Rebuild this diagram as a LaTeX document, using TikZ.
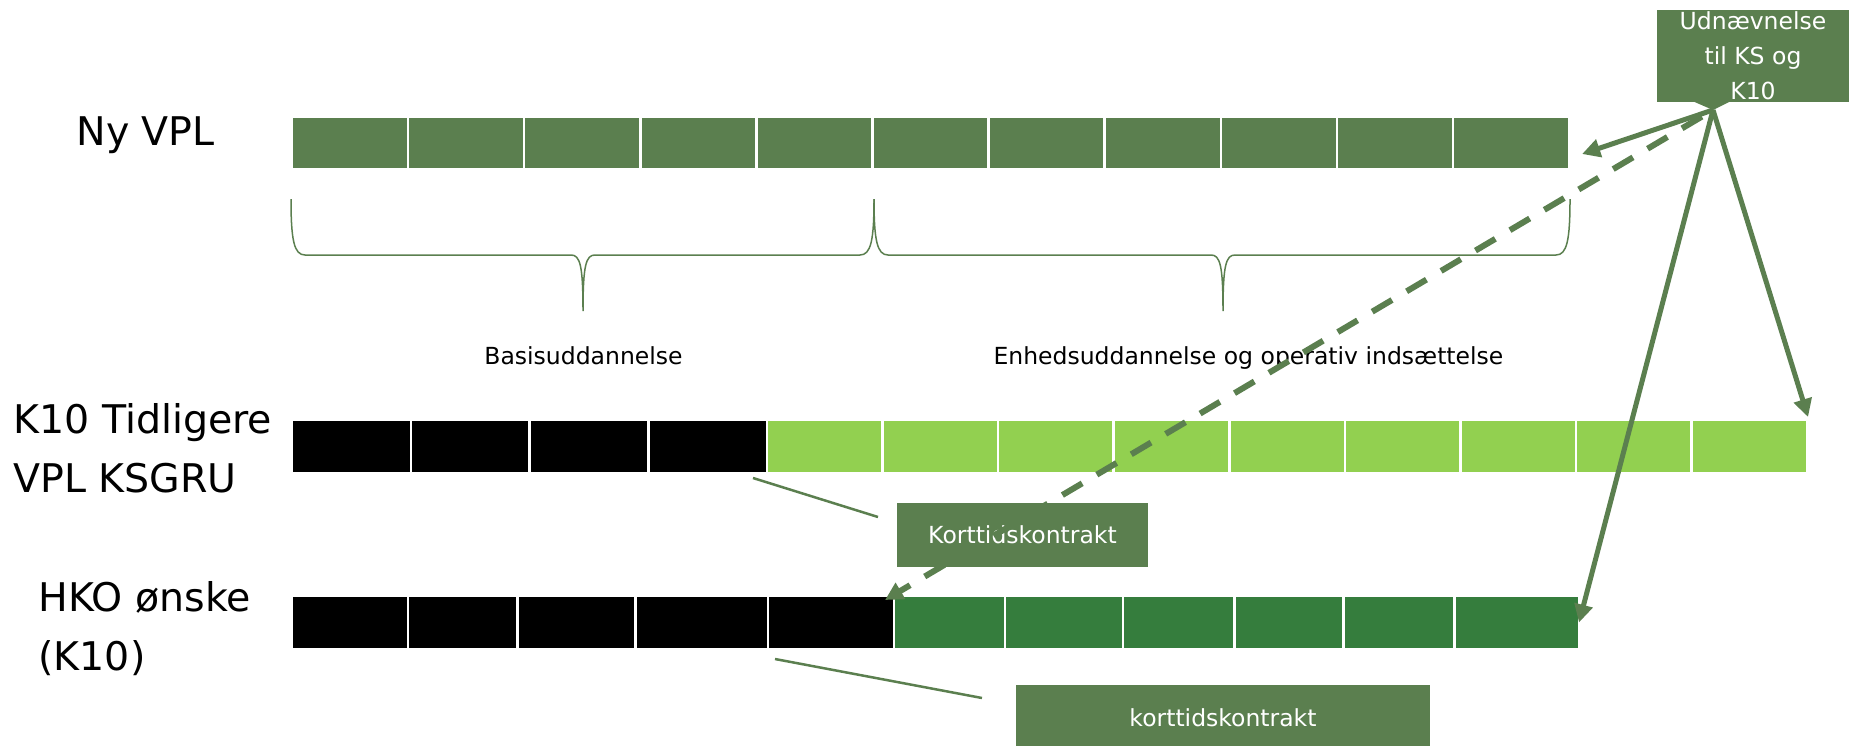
\documentclass[tikz,border=0pt]{standalone}
\usepackage{fontspec}
\setmainfont{DejaVu Sans}
\usetikzlibrary{arrows.meta}
\definecolor{vplgreen}{HTML}{5B7F4F}
\definecolor{lightgreen}{HTML}{92D050}
\definecolor{darkgreen}{HTML}{357D3D}
\tikzset{
  every picture/.style={
    line width=1pt
  },
  cell/.style={draw=white, line width=2.5pt, minimum height=53pt, inner sep=0pt, outer sep=0pt},
  rowlabel/.style={font=\fontsize{39.5}{59}\selectfont, align=left, anchor=base west, inner sep=0pt},
  phase/.style={font=\fontsize{23.5}{28}\selectfont, anchor=base, inner sep=0pt},
  greenbox/.style={fill=vplgreen, text=white, font=\fontsize{23.5}{35}\selectfont, align=center, inner sep=0pt},
  brace/.style={draw=vplgreen, line width=1.5pt},
  pointer/.style={draw=vplgreen, line width=2.5pt},
  move/.style={draw=vplgreen, line width=5pt, ->}
}

\begin{document}
\begin{tikzpicture}[x=1pt, y=-1pt, >={Triangle[length=18pt,width=18pt]}]
  \useasboundingbox (0,0) rectangle (1849,745);

  % rows of cells
  \foreach \i in {1,...,11}
    \node[cell, fill=vplgreen, minimum width=116.1pt] (ny\i) at ({292+(\i-0.5)*116.1}, 143) {};
  \foreach \i in {1,...,4}
    \node[cell, fill=black, minimum width=118.75pt] (k\i) at ({292+(\i-0.5)*118.75}, 446.5) {};
  \foreach \i in {5,...,13}
    \node[cell, fill=lightgreen, minimum width=115.56pt] (k\i) at ({767+(\i-4.5)*115.56}, 446.5) {};
  \foreach \a/\b [count=\i] in {292/408, 408/517.5, 517.5/635.5, 635.5/768, 768/894}
    \node[cell, fill=black, minimum width={(\b-\a)*1pt}] (h\i) at ({(\a+\b)/2}, 622.5) {};
  \foreach \a/\b [count=\i from 6] in {894/1005, 1005/1123, 1123/1234.5, 1234.5/1343.5, 1343.5/1454.5, 1454.5/1579}
    \node[cell, fill=darkgreen, minimum width={(\b-\a)*1pt}] (h\i) at ({(\a+\b)/2}, 622.5) {};

  \node[rowlabel] (lblny) at (76,145) {Ny VPL};
  \node[rowlabel] (lblk) at (13,492) {K10 Tidligere\\VPL KSGRU};
  \node[rowlabel] (lblh) at (38,670) {HKO ønske\\(K10)};

  % braces
  \draw[brace] (291,199) .. controls (291,240) and (294,255) .. (305,255) -- (571,255)
    .. controls (580,255) and (583,265) .. (583,311) .. controls (583,265) and (586,255) .. (595,255)
    -- (860,255) .. controls (871,255) and (874,240) .. (874,199);
  \draw[brace] (874,199) .. controls (874,240) and (877,255) .. (888,255) -- (1211,255)
    .. controls (1220,255) and (1223,265) .. (1223,311) .. controls (1223,265) and (1226,255) .. (1235,255)
    -- (1556,255) .. controls (1567,255) and (1570,240) .. (1570,199);

  \node[phase] (basis) at (583.5,364) {Basisuddannelse};
  \node[phase, anchor=base west] (enhed) at (993,364) {Enhedsuddannelse og operativ indsættelse};

  \node[greenbox, minimum width=251pt, minimum height=64pt] (kort1) at (1022.5,535) {Korttidskontrakt};
  \node[greenbox, minimum width=414pt, minimum height=66pt] (kort2) at (1223,718) {korttidskontrakt};
  \node[greenbox, minimum width=192pt, minimum height=92pt] (udn) at (1753,56) {Udnævnelse\\til KS og\\K10};
  \fill[vplgreen] (1690,100) -- (1713,110) -- (1733,100) -- cycle;
  \coordinate (udntip) at (1713,110);

  \coordinate (p1a) at (753,478);
  \coordinate (p1b) at (878,517);
  \coordinate (p2a) at (775,659);
  \coordinate (p2b) at (982,698);
  \draw[pointer] (p1a) -- (p1b);
  \draw[pointer] (p2a) -- (p2b);

  \draw[move, line width=6pt, dash pattern=on 23pt off 17pt, dash phase=27pt] (udntip) -- ([shift={(-9,4)}]h5.north east);
  \draw[move] (udntip) -- ([shift={(13,11)}]ny11.east);
  \draw[move] (udntip) -- ([shift={(1,-3)}]k13.north east);
  \draw[move] (udntip) -- (h11.east);
\end{tikzpicture}
\end{document}
